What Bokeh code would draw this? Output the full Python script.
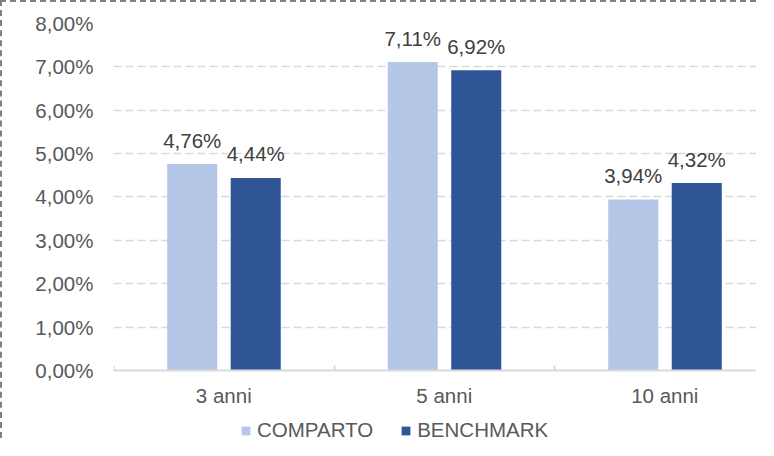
from bokeh.plotting import figure
from bokeh.models import (Range1d, FixedTicker, ColumnDataSource, Legend, LegendItem)
from bokeh.core.properties import value
from bokeh.embed import file_html
from bokeh.resources import INLINE

# ---- data ----
categories = ["3 anni", "5 anni", "10 anni"]
comparto = [4.76, 7.11, 3.94]
benchmark = [4.44, 6.92, 4.32]
series_names = ["COMPARTO", "BENCHMARK"]
y_ticks = [0, 1, 2, 3, 4, 5, 6, 7, 8]
y_tick_labels = ["0,00%", "1,00%", "2,00%", "3,00%", "4,00%", "5,00%", "6,00%", "7,00%", "8,00%"]

FONT = "Liberation Sans"
FS = "20.5px"
LIGHT = "#B4C7E7"
DARK = "#2F5597"
TXT = "#595959"
LBL = "#404040"

def fmt(v):
    return f"{v:.2f}".replace(".", ",") + "%"

centers = [i + 0.5 for i in range(len(categories))]
off_c, off_b, bw = -0.143, 0.145, 0.227

src_c = ColumnDataSource(dict(x=[c + off_c for c in centers], top=comparto,
                              lab=[fmt(v) for v in comparto]))
src_b = ColumnDataSource(dict(x=[c + off_b for c in centers], top=benchmark,
                              lab=[fmt(v) for v in benchmark]))

p = figure(width=756, height=438, output_backend="svg", toolbar_location=None,
           x_range=Range1d(0, 2.925), y_range=Range1d(-1.614, 8),
           min_border_left=111, min_border_right=0, min_border_top=21,
           min_border_bottom=0)
p.styles = {"border-top": "2px dashed #808080", "border-left": "2px dashed #808080"}
p.outline_line_color = None
p.background_fill_color = "white"
p.border_fill_color = "white"

r1 = p.vbar(x="x", top="top", bottom=0, width=bw, source=src_c, fill_color=LIGHT, line_color=None)
r2 = p.vbar(x="x", top="top", bottom=0, width=bw, source=src_b, fill_color=DARK, line_color=None)

for src in (src_c, src_b):
    p.text(x="x", y="top", text="lab", source=src, text_align="center",
           text_baseline="alphabetic", y_offset=-24, text_font=value(FONT),
           text_font_size=FS, text_color=LBL)

# axes
xa = p.xaxis[0]
xa.fixed_location = 0
xa.ticker = FixedTicker(ticks=centers, minor_ticks=[0, 1, 2, 3])
xa.major_label_overrides = {c: n for c, n in zip(centers, categories)}
xa.major_tick_in = 0
xa.major_tick_out = 0
xa.minor_tick_in = 5
xa.minor_tick_out = 0
xa.minor_tick_line_color = "#D9D9D9"
xa.minor_tick_line_width = 2
xa.axis_line_color = "#D9D9D9"
xa.axis_line_width = 2
xa.major_label_standoff = 14
xa.major_label_text_font = FONT
xa.major_label_text_font_size = FS
xa.major_label_text_color = TXT

p.yaxis.ticker = FixedTicker(ticks=y_ticks)
p.yaxis.major_label_overrides = {t: l for t, l in zip(y_ticks, y_tick_labels)}
p.yaxis.axis_line_color = None
p.yaxis.major_tick_line_color = None
p.yaxis.major_tick_in = 0
p.yaxis.major_tick_out = 0
p.yaxis.minor_tick_line_color = None
p.yaxis.major_label_standoff = 20
p.yaxis.major_label_text_font = FONT
p.yaxis.major_label_text_font_size = FS
p.yaxis.major_label_text_color = TXT

p.xgrid.grid_line_color = None
p.ygrid.ticker = FixedTicker(ticks=y_ticks[1:])
p.ygrid.grid_line_color = "#D9D9D9"
p.ygrid.grid_line_width = 1.5
p.ygrid.grid_line_dash = "8 4"

legend = Legend(items=[LegendItem(label=series_names[0], renderers=[r1]),
                       LegendItem(label=series_names[1], renderers=[r2])],
                orientation="horizontal", location=(127, -2),
                padding=0, margin=0, spacing=27, label_standoff=6,
                glyph_width=11, glyph_height=11,
                label_text_font=FONT, label_text_font_size=FS,
                label_text_color=TXT, border_line_color=None,
                background_fill_alpha=0)
p.add_layout(legend, "center")

open("out.html", "w").write(file_html(p, INLINE))
